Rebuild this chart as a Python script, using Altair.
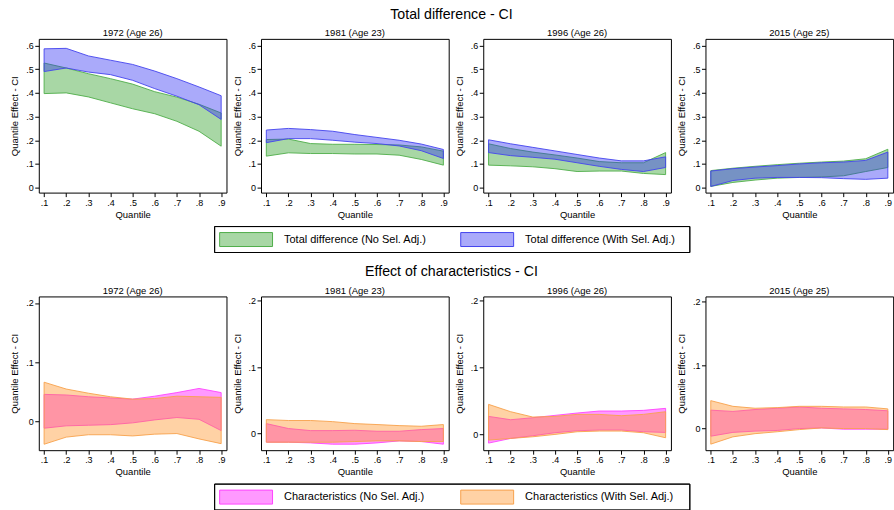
import altair as alt
import pandas as pd

FONT = "Liberation Sans"

QUANTILES = [0.1, 0.2, 0.3, 0.4, 0.5, 0.6, 0.7, 0.8, 0.9]
PANELS = ["1972 (Age 26)", "1981 (Age 23)", "1996 (Age 26)", "2015 (Age 25)"]

# Total difference, no selection adjustment: CI lower / upper bounds
TOTAL_NOSEL_LO = {
    "1972 (Age 26)": [0.397, 0.400, 0.383, 0.358, 0.333, 0.312, 0.280, 0.238, 0.175],
    "1981 (Age 23)": [0.133, 0.147, 0.144, 0.144, 0.142, 0.142, 0.137, 0.119, 0.095],
    "1996 (Age 26)": [0.095, 0.092, 0.088, 0.080, 0.068, 0.070, 0.070, 0.060, 0.055],
    "2015 (Age 25)": [0.005, 0.022, 0.032, 0.040, 0.043, 0.045, 0.050, 0.068, 0.085],
}
TOTAL_NOSEL_HI = {
    "1972 (Age 26)": [0.526, 0.505, 0.481, 0.460, 0.437, 0.405, 0.382, 0.352, 0.315],
    "1981 (Age 23)": [0.203, 0.205, 0.186, 0.183, 0.183, 0.182, 0.180, 0.172, 0.154],
    "1996 (Age 26)": [0.185, 0.165, 0.150, 0.138, 0.125, 0.110, 0.105, 0.105, 0.148],
    "2015 (Age 25)": [0.072, 0.082, 0.090, 0.097, 0.103, 0.108, 0.112, 0.122, 0.162],
}
# Total difference, with selection adjustment
TOTAL_SEL_LO = {
    "1972 (Age 26)": [0.490, 0.505, 0.488, 0.477, 0.453, 0.418, 0.386, 0.350, 0.288],
    "1981 (Age 23)": [0.190, 0.207, 0.207, 0.200, 0.192, 0.186, 0.176, 0.156, 0.123],
    "1996 (Age 26)": [0.148, 0.135, 0.128, 0.120, 0.105, 0.090, 0.077, 0.068, 0.085],
    "2015 (Age 25)": [0.005, 0.030, 0.040, 0.043, 0.043, 0.042, 0.038, 0.035, 0.040],
}
TOTAL_SEL_HI = {
    "1972 (Age 26)": [0.586, 0.588, 0.556, 0.538, 0.520, 0.492, 0.460, 0.425, 0.388],
    "1981 (Age 23)": [0.243, 0.250, 0.245, 0.238, 0.224, 0.212, 0.200, 0.184, 0.161],
    "1996 (Age 26)": [0.202, 0.185, 0.170, 0.155, 0.140, 0.125, 0.113, 0.113, 0.130],
    "2015 (Age 25)": [0.070, 0.080, 0.087, 0.093, 0.100, 0.105, 0.108, 0.115, 0.150],
}

# Effect of characteristics, no selection adjustment
CHAR_NOSEL_LO = {
    "1972 (Age 26)": [-0.011, -0.007, -0.006, -0.005, -0.002, 0.003, 0.007, 0.004, -0.015],
    "1981 (Age 23)": [-0.013, -0.013, -0.014, -0.016, -0.016, -0.014, -0.011, -0.012, -0.016],
    "1996 (Age 26)": [-0.013, -0.006, -0.002, 0.0025, 0.0055, 0.0065, 0.0065, 0.004, 0.003],
    "2015 (Age 25)": [-0.012, -0.006, -0.004, -0.003, 0.000, 0.001, -0.001, -0.001, -0.001],
}
CHAR_NOSEL_HI = {
    "1972 (Age 26)": [0.046, 0.045, 0.042, 0.040, 0.038, 0.043, 0.049, 0.056, 0.049],
    "1981 (Age 23)": [0.015, 0.0076, 0.0045, 0.0045, 0.005, 0.0035, 0.0035, 0.006, 0.0076],
    "1996 (Age 26)": [0.027, 0.022, 0.025, 0.0285, 0.032, 0.035, 0.035, 0.036, 0.039],
    "2015 (Age 25)": [0.029, 0.027, 0.030, 0.032, 0.034, 0.032, 0.031, 0.030, 0.028],
}
# Effect of characteristics, with selection adjustment
CHAR_SEL_LO = {
    "1972 (Age 26)": [-0.038, -0.026, -0.022, -0.022, -0.024, -0.021, -0.020, -0.029, -0.037],
    "1981 (Age 23)": [-0.013, -0.013, -0.013, -0.013, -0.012, -0.011, -0.011, -0.012, -0.012],
    "1996 (Age 26)": [-0.0085, -0.006, -0.0035, 0.000, 0.004, 0.005, 0.005, 0.0025, -0.005],
    "2015 (Age 25)": [-0.0245, -0.013, -0.008, -0.005, -0.0016, 0.001, 0.000, 0.000, -0.0016],
}
CHAR_SEL_HI = {
    "1972 (Age 26)": [0.0665, 0.055, 0.048, 0.042, 0.038, 0.039, 0.043, 0.042, 0.041],
    "1981 (Age 23)": [0.021, 0.0197, 0.0197, 0.018, 0.015, 0.0136, 0.012, 0.011, 0.0136],
    "1996 (Age 26)": [0.045, 0.034, 0.026, 0.027, 0.030, 0.030, 0.028, 0.030, 0.034],
    "2015 (Age 25)": [0.044, 0.035, 0.032, 0.033, 0.035, 0.035, 0.034, 0.034, 0.031],
}

TOTAL_NAMES = ["Total difference (No Sel. Adj.)", "Total difference (With Sel. Adj.)"]
CHAR_NAMES = ["Characteristics (No Sel. Adj.)", "Characteristics (With Sel. Adj.)"]

# y-axis ranges and ticks
TOTAL_YDOMAIN = [-0.021, 0.628]
TOTAL_YTICKS = [0, 0.1, 0.2, 0.3, 0.4, 0.5, 0.6]
CHAR_YDOMAINS = {
    "1972 (Age 26)": [-0.048, 0.211],
    "1981 (Age 23)": [-0.025, 0.2066],
    "1996 (Age 26)": [-0.0236, 0.2066],
    "2015 (Age 25)": [-0.034, 0.208],
}
CHAR_YTICKS = [0, 0.1, 0.2]
X_DOMAIN = [0.076, 0.924]

# fill / outline colours (fill drawn at 40% opacity)
GREEN, GREEN_LINE = "#259a1e", "#4fae4a"
BLUE, BLUE_LINE = "#2a2af2", "#4444ee"
PINK, PINK_LINE = "#ff00ff", "#ff44ff"
ORANGE, ORANGE_LINE = "#ff8e1e", "#f7a24c"

PANEL_W, PANEL_H = 188, 154
LEGEND_W, LEGEND_H = 476, 26
TICK_LABEL = "datum.value == 0 ? '0' : substring(format(datum.value, '.1f'), 1)"


def band_frame(lo, hi):
    return pd.DataFrame({"q": QUANTILES, "lo": lo, "hi": hi})


def panel(title, df_a, df_b, fill_a, line_a, fill_b, line_b, ydomain, yticks):
    x = alt.X(
        "q:Q",
        scale=alt.Scale(domain=X_DOMAIN, nice=False, zero=False),
        axis=alt.Axis(values=QUANTILES, labelExpr=TICK_LABEL, title="Quantile"),
    )
    y = alt.Y(
        "lo:Q",
        scale=alt.Scale(domain=ydomain, nice=False, zero=False),
        axis=alt.Axis(values=yticks, labelExpr=TICK_LABEL, title="Quantile Effect - CI"),
    )
    first = alt.Chart(df_a).mark_area(
        fill=fill_a, fillOpacity=0.4, stroke=line_a, strokeWidth=0.9
    ).encode(x=x, y=y, y2="hi:Q")
    second = alt.Chart(df_b).mark_area(
        fill=fill_b, fillOpacity=0.4, stroke=line_b, strokeWidth=0.9
    ).encode(x=x, y=y, y2="hi:Q")
    return alt.layer(first, second).properties(
        width=PANEL_W,
        height=PANEL_H,
        title=alt.Title(title, fontSize=9.5, fontWeight="normal", font=FONT, offset=1, color="black"),
    )


def legend(names, fills, lines):
    df = pd.DataFrame({"name": names})
    pos = alt.X(
        "name:N",
        scale=alt.Scale(type="point", domain=names, range=[31.5, 273], padding=0),
        axis=None,
    )
    frame = alt.Chart(df).mark_rect(
        fillOpacity=0, stroke="black", strokeWidth=1
    ).encode(
        x=alt.value(0), x2=alt.value(LEGEND_W), y=alt.value(0), y2=alt.value(LEGEND_H)
    )
    swatch = alt.Chart(df).mark_point(
        shape="M-1,-0.264L1,-0.264L1,0.264L-1,0.264Z",
        size=53 * 53,
        filled=True,
        fillOpacity=0.4,
        strokeOpacity=1,
        strokeWidth=1,
    ).encode(
        x=pos,
        y=alt.value(LEGEND_H / 2),
        fill=alt.Fill("name:N", scale=alt.Scale(domain=names, range=fills), legend=None),
        stroke=alt.Stroke("name:N", scale=alt.Scale(domain=names, range=lines), legend=None),
    )
    text = alt.Chart(df).mark_text(
        align="left", baseline="middle", dx=38, fontSize=11, font=FONT, color="black"
    ).encode(x=pos, y=alt.value(LEGEND_H / 2), text="name:N")
    # the view is a little larger than the boxed key: extra room on the right keeps the
    # centred column aligned under the panels, extra room below spaces the next title
    return alt.layer(frame, swatch, text).properties(
        width=LEGEND_W + 28,
        height=LEGEND_H + 6,
        view=alt.ViewBackground(strokeWidth=0),
    )


top_panels = [
    panel(
        p,
        band_frame(TOTAL_NOSEL_LO[p], TOTAL_NOSEL_HI[p]),
        band_frame(TOTAL_SEL_LO[p], TOTAL_SEL_HI[p]),
        GREEN, GREEN_LINE, BLUE, BLUE_LINE,
        TOTAL_YDOMAIN, TOTAL_YTICKS,
    )
    for p in PANELS
]
bottom_panels = [
    panel(
        p,
        band_frame(CHAR_NOSEL_LO[p], CHAR_NOSEL_HI[p]),
        band_frame(CHAR_SEL_LO[p], CHAR_SEL_HI[p]),
        PINK, PINK_LINE, ORANGE, ORANGE_LINE,
        CHAR_YDOMAINS[p], CHAR_YTICKS,
    )
    for p in PANELS
]

section_title = dict(fontSize=14.2, fontWeight="normal", font=FONT, offset=6, color="black", anchor="middle")

top_row = alt.hconcat(
    *top_panels, spacing=34.6, bounds="flush",
    title=alt.Title("Total difference - CI", **section_title),
)
bottom_row = alt.hconcat(
    *bottom_panels, spacing=34.6, bounds="flush",
    title=alt.Title("Effect of characteristics - CI", **section_title),
)

chart = alt.vconcat(
    top_row,
    legend(TOTAL_NAMES, [GREEN, BLUE], [GREEN_LINE, BLUE_LINE]),
    bottom_row,
    legend(CHAR_NAMES, [PINK, ORANGE], [PINK_LINE, ORANGE_LINE]),
    spacing=6,
    center=True,
).resolve_scale(
    x="independent", fill="independent", stroke="independent"
).properties(
    padding={"left": 8.5, "top": 6.5, "right": 0, "bottom": 0},
    background="white",
).configure_view(
    stroke="black", strokeWidth=1
).configure_axis(
    grid=False,
    domain=False,
    labelFont=FONT,
    titleFont=FONT,
    labelFontSize=9,
    titleFontSize=9.5,
    titleFontWeight="normal",
    labelColor="black",
    titleColor="black",
    tickColor="black",
    tickSize=4,
    labelPadding=1.5,
    titlePadding=2,
).configure_axisY(
    labelAngle=0, titlePadding=6
)

chart.save("out.html", embed_options={"renderer": "svg", "actions": False})
